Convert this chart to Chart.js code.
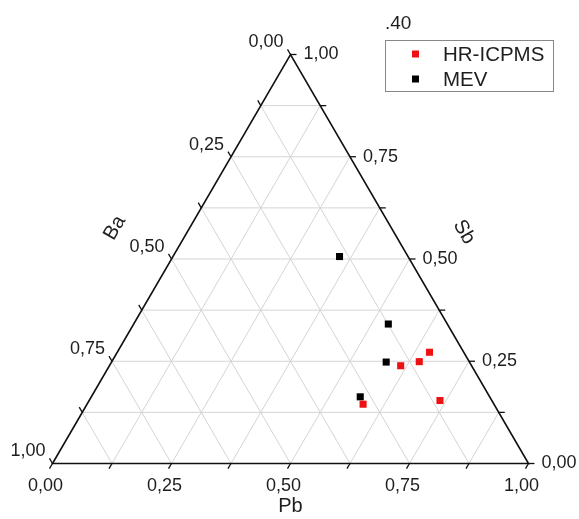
<!DOCTYPE html>
<html>
<head>
<meta charset="utf-8">
<script src="https://cdn.jsdelivr.net/npm/chart.js@4"></script>
<style>
  body { margin: 0; background: #fff; }
  #wrap { width: 579px; height: 519px; }
</style>
</head>
<body>
<div id="wrap"><canvas id="ternary" width="579" height="519"></canvas></div>
<script>
// ternary data, fractions of Pb / Sb / Ba
const seriesNames = ["HR-ICPMS", "MEV"];
const hrPb = [0.612, 0.646, 0.656, 0.580, 0.737];
const hrSb = [0.239, 0.249, 0.272, 0.145, 0.154];
const hrBa = [0.149, 0.105, 0.072, 0.275, 0.109];
const mevPb = [0.350, 0.535, 0.577, 0.565];
const mevSb = [0.506, 0.341, 0.248, 0.163];
const mevBa = [0.144, 0.124, 0.175, 0.272];
const tickValues = [0, 0.25, 0.5, 0.75, 1];
const tickLabels = ["0,00", "0,25", "0,50", "0,75", "1,00"];

const FONT = "Liberation Sans, Arial, sans-serif";

// ternary -> cartesian (Pb along bottom, Sb to the top vertex)
function toXY(pb, sb) {
    return { x: pb + sb / 2, y: sb };
}
function points(pb, sb) {
    return pb.map((p, i) => toXY(p, sb[i]));
}

function px(chart, pb, sb) {
    const c = toXY(pb, sb);
    return [chart.scales.x.getPixelForValue(c.x), chart.scales.y.getPixelForValue(c.y)];
}

function line(ctx, a, b) {
    ctx.beginPath();
    ctx.moveTo(a[0], a[1]);
    ctx.lineTo(b[0], b[1]);
    ctx.stroke();
}

const ternaryFrame = {
    id: "ternaryFrame",
    beforeDatasetsDraw(chart) {
        const ctx = chart.ctx;
        ctx.save();
        // grid
        ctx.strokeStyle = "#d4d4d4";
        ctx.lineWidth = 1;
        for (let k = 1; k < 8; k++) {
            const v = k / 8;
            line(ctx, px(chart, 0, v), px(chart, 1 - v, v));      // Sb const
            line(ctx, px(chart, v, 0), px(chart, v, 1 - v));      // Pb const
            line(ctx, px(chart, 1 - v, 0), px(chart, 0, 1 - v));  // Ba const
        }
        // frame
        const A = px(chart, 0, 0), B = px(chart, 1, 0), C = px(chart, 0, 1);
        ctx.strokeStyle = "#111";
        ctx.lineWidth = 1.6;
        ctx.beginPath();
        ctx.moveTo(A[0], A[1]);
        ctx.lineTo(B[0], B[1]);
        ctx.lineTo(C[0], C[1]);
        ctx.closePath();
        ctx.stroke();

        // tick directions
        const lenL = Math.hypot(C[0] - A[0], C[1] - A[1]);
        const downLeft = [(A[0] - C[0]) / lenL, (A[1] - C[1]) / lenL];
        const lenR = Math.hypot(C[0] - B[0], C[1] - B[1]);
        const upLeft = [(C[0] - B[0]) / lenR, (C[1] - B[1]) / lenR];
        const tl = 6;
        ctx.lineWidth = 1.3;
        for (let k = 0; k <= 8; k++) {
            const v = k / 8;
            const b = px(chart, v, 0);          // Pb axis (bottom)
            line(ctx, b, [b[0] + downLeft[0] * tl, b[1] + downLeft[1] * tl]);
            const r = px(chart, 1 - v, v);      // Sb axis (right)
            line(ctx, r, [r[0] + tl, r[1]]);
            const l = px(chart, 0, 1 - v);      // Ba axis (left), Ba = v
            line(ctx, l, [l[0] + upLeft[0] * tl, l[1] + upLeft[1] * tl]);
        }

        // tick labels
        ctx.fillStyle = "#1e1e1e";
        ctx.font = "18px " + FONT;
        ctx.textBaseline = "middle";
        tickValues.forEach((v, i) => {
            const b = px(chart, v, 0);
            ctx.textAlign = "center";
            ctx.fillText(tickLabels[i], b[0] - 7, b[1] + 23);
            const r = px(chart, 1 - v, v);
            ctx.textAlign = "left";
            ctx.fillText(tickLabels[i], r[0] + 13, r[1]);
            const l = px(chart, 0, 1 - v);
            ctx.textAlign = "right";
            ctx.fillText(tickLabels[i], l[0] - 7, l[1] - 12);
        });

        // axis titles
        ctx.font = "20px " + FONT;
        ctx.textAlign = "center";
        ctx.fillText("Pb", (A[0] + B[0]) / 2, B[1] + 43);
        const ang = Math.atan2(C[1] - A[1], C[0] - A[0]);
        ctx.save();
        ctx.translate(115, 228);
        ctx.rotate(ang);
        ctx.fillText("Ba", 0, 0);
        ctx.restore();
        ctx.save();
        ctx.translate(464, 232);
        ctx.rotate(Math.atan2(B[1] - C[1], B[0] - C[0]));
        ctx.fillText("Sb", 0, 0);
        ctx.restore();
        ctx.restore();
    },
    afterDraw(chart) {
        const ctx = chart.ctx;
        ctx.save();
        ctx.fillStyle = "#1e1e1e";
        ctx.font = "19px " + FONT;
        ctx.textBaseline = "middle";
        ctx.textAlign = "left";
        ctx.fillText(".40", 385, 24);
        // legend box
        ctx.strokeStyle = "#888";
        ctx.lineWidth = 1;
        ctx.strokeRect(385.5, 40.5, 168, 51);
        const colors = chart.data.datasets.map(d => d.backgroundColor);
        chart.data.datasets.forEach((d, i) => {
            const y = 54 + i * 25;
            ctx.fillStyle = colors[i];
            ctx.fillRect(412, y - 3.5, 7, 7);
            ctx.fillStyle = "#1e1e1e";
            ctx.font = "20.5px " + FONT;
            ctx.fillText(d.label, 443, y + 1);
        });
        ctx.restore();
    }
};

new Chart(document.getElementById("ternary"), {
    type: "scatter",
    data: {
        datasets: [
            {
                label: seriesNames[0],
                data: points(hrPb, hrSb),
                backgroundColor: "#ee1111",
                borderWidth: 0,
                pointStyle: "rect",
                pointRadius: 5,
                clip: false,
            },
            {
                label: seriesNames[1],
                data: points(mevPb, mevSb),
                backgroundColor: "#000000",
                borderWidth: 0,
                pointStyle: "rect",
                pointRadius: 5,
                clip: false,
            },
        ],
    },
    options: {
        responsive: false,
        animation: false,
        layout: { padding: { left: 52.5, right: 50.5, top: 54.5, bottom: 55.5 } },
        scales: {
            x: { type: "linear", min: 0, max: 1, display: false },
            y: { type: "linear", min: 0, max: 1, display: false },
        },
        plugins: {
            legend: { display: false },
            tooltip: { enabled: false },
        },
    },
    plugins: [ternaryFrame],
});
</script>
</body>
</html>
